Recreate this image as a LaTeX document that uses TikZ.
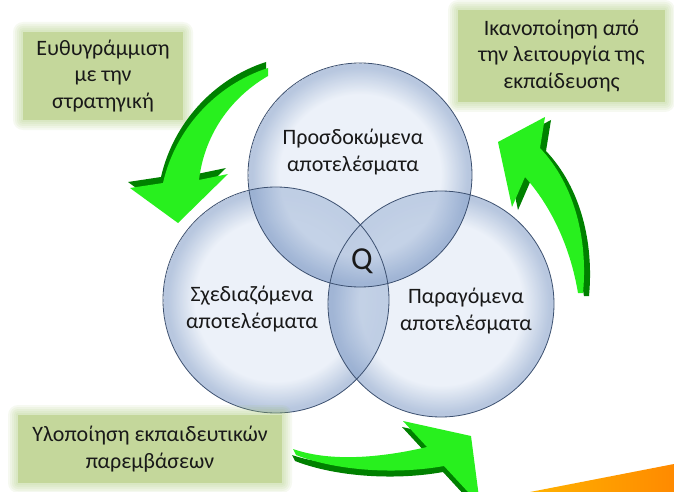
\documentclass[tikz,border=0pt]{standalone}
\usepackage{fontspec}
\setmainfont{Carlito}
\definecolor{cfill}{RGB}{233,239,248}
\definecolor{crim}{RGB}{172,190,218}
\definecolor{cborder}{RGB}{60,80,112}
\definecolor{lensc}{RGB}{120,150,196}
\definecolor{boxc}{RGB}{196,215,155}
\definecolor{glowc}{RGB}{160,195,100}
\definecolor{gbright}{RGB}{40,240,30}
\definecolor{gdark}{RGB}{0,128,0}
\definecolor{txt}{RGB}{25,25,25}
\definecolor{orA}{RGB}{255,178,0}
\definecolor{orB}{RGB}{255,138,0}
\pgfdeclareradialshading{vennrim}{\pgfpoint{0bp}{0bp}}{color(0bp)=(cfill); color(18bp)=(cfill); color(24bp)=(crim); color(25bp)=(crim)}
\newcommand\arrowOne[1]{\fill[#1] (268,68) .. controls (215,85) and (175,130) .. (163,183) -- (130,188) -- (178,223) -- (228,174) -- (199,180) .. controls (205,130) and (235,95) .. (268,76) -- cycle;}
\newcommand\arrowTwo[1]{\fill[#1] (583,293) .. controls (588,240) and (575,185) .. (540,148) -- (545,117) -- (498,142) -- (512,207) -- (525,177) .. controls (550,205) and (570,245) .. (578,293) -- cycle;}
\newcommand\arrowThree[1]{\fill[#1] (293,449) .. controls (330,462) and (380,458) .. (427,447) -- (403,421) -- (471,436) -- (480,505) -- (444,466) .. controls (400,474) and (340,472) .. (296,455) -- cycle;}
\newcommand\glowRect[4]{\foreach \g in {10,8,6,4,2}{\fill[glowc, fill opacity=0.09, rounded corners=\g pt] ({#1-\g},{#2-\g}) rectangle ({#3+\g},{#4+\g});}}
\begin{document}
\begin{tikzpicture}[x=1pt,y=-1pt,
  lbl/.style={font=\fontsize{22}{26.5}\selectfont, text=txt, align=center, inner sep=0pt},
  gbox/.style={lbl, fill=boxc, draw=none},
  rimline/.style={draw=cborder, line width=0.8pt}]
\useasboundingbox (0,0) rectangle (674,492);
\fill[white] (0,0) rectangle (674,492);
% orange band
\shade[left color=orA, right color=orB] (530,492) -- (674,464) -- (674,492) -- cycle;
% circles
\coordinate (T) at (360,175);
\coordinate (L) at (276,300);
\coordinate (R) at (441,304);
\shade[shading=vennrim, fill opacity=0.85] (L) circle[radius=113pt];
\shade[shading=vennrim, fill opacity=0.85] (R) circle[radius=113pt];
\shade[shading=vennrim, fill opacity=0.85] (T) circle[radius=112pt];
\begin{scope}
  \clip (T) circle[radius=112pt];
  \fill[lensc, fill opacity=0.32] (L) circle[radius=113pt] (R) circle[radius=113pt];
\end{scope}
\begin{scope}
  \clip (L) circle[radius=113pt];
  \clip (R) circle[radius=113pt];
  \fill[lensc, fill opacity=0.32, even odd rule] (100,100) rectangle (600,450) (T) circle[radius=112pt];
\end{scope}
\draw[rimline] (L) circle[radius=113pt];
\draw[rimline] (R) circle[radius=113pt];
\draw[rimline] (T) circle[radius=112pt];
% circle labels
\node[lbl] (tT) at (353,152) {Προσδοκώμενα\\αποτελέσματα};
\node[lbl] (tL) at (252,309) {Σχεδιαζόμενα\\αποτελέσματα};
\node[lbl] (tR) at (466,311) {Παραγόμενα\\αποτελέσματα};
\node[font=\fontsize{32}{34}\selectfont, text=txt, inner sep=0pt] (q) at (362,261) {Q};
% green boxes
\glowRect{23}{32}{183}{120}
\glowRect{458}{10}{665}{102}
\glowRect{18}{415}{282}{483}
\node[gbox, minimum width=160pt, minimum height=88pt] (b1) at (103,76) {Ευθυγράμμιση\\με την\\στρατηγική};
\node[gbox, minimum width=207pt, minimum height=92pt] (b2) at (561.5,56) {Ικανοποίηση από\\την λειτουργία της\\εκπαίδευσης};
\node[gbox, minimum width=264pt, minimum height=68pt] (b3) at (150,449) {Υλοποίηση εκπαιδευτικών\\παρεμβάσεων};
% arrows
\begin{scope}[shift={(-2,-6)}]\arrowOne{gdark}\end{scope}
\arrowOne{gbright}
\begin{scope}[shift={(6,3)}]\arrowTwo{gdark}\end{scope}
\arrowTwo{gbright}
\begin{scope}[shift={(-1,6)}]\arrowThree{gdark}\end{scope}
\arrowThree{gbright}
\end{tikzpicture}
\end{document}
